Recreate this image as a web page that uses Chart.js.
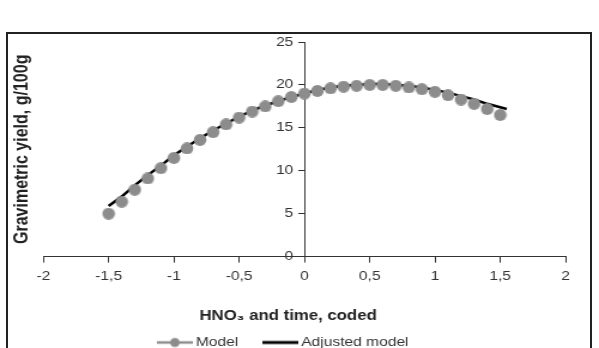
<!DOCTYPE html>
<html>
<head>
<meta charset="utf-8">
<script src="https://cdn.jsdelivr.net/npm/chart.js@4.4.0/dist/chart.umd.min.js"></script>
<style>
  html, body { margin: 0; padding: 0; background: #fff; overflow: hidden; }
  #wrap { position: relative; width: 599px; height: 348px; overflow: hidden; }
  #chart { position: absolute; left: 0; top: 0; width: 599px; height: 380px; }
  #frame { position: absolute; left: 6px; top: 32px; width: 582px; height: 340px; border: 2px solid #222; pointer-events: none; }
</style>
</head>
<body>
<div id="wrap">
  <canvas id="chart" width="500" height="380" style="width:599px;height:380px"></canvas>
  <div id="frame"></div>
</div>
<script>
// coded factor levels
const modelX = [-1.5, -1.4, -1.3, -1.2, -1.1, -1.0, -0.9, -0.8, -0.7, -0.6, -0.5, -0.4, -0.3, -0.2, -0.1,
  0, 0.1, 0.2, 0.3, 0.4, 0.5, 0.6, 0.7, 0.8, 0.9, 1.0, 1.1, 1.2, 1.3, 1.4, 1.5];
const modelY = [5.0, 6.4, 7.8, 9.1, 10.3, 11.5, 12.6, 13.6, 14.5, 15.4, 16.2, 16.9, 17.5, 18.1, 18.6,
  19.0, 19.3, 19.6, 19.8, 19.9, 20.0, 20.0, 19.9, 19.7, 19.5, 19.2, 18.8, 18.3, 17.8, 17.2, 16.5];

const adjustedX = [-1.5, -1.4, -1.3, -1.2, -1.1, -1.0, -0.9, -0.8, -0.7, -0.6, -0.5, -0.4, -0.3, -0.2, -0.1,
  0, 0.1, 0.2, 0.3, 0.4, 0.5, 0.6, 0.7, 0.8, 0.9, 1.0, 1.1, 1.2, 1.3, 1.4, 1.5, 1.55];
const adjustedY = [5.9, 7.0, 8.3, 9.5, 10.6, 11.8, 12.8, 13.8, 14.7, 15.5, 16.3, 17.0, 17.6, 18.1, 18.6,
  19.0, 19.4, 19.7, 19.9, 20.0, 20.1, 20.1, 20.0, 19.9, 19.7, 19.4, 19.1, 18.7, 18.3, 17.8, 17.4, 17.2];

const xTicks = [-2, -1.5, -1, -0.5, 0, 0.5, 1, 1.5, 2];
const xTickLabels = ['-2', '-1,5', '-1', '-0,5', '0', '0,5', '1', '1,5', '2'];
const yTicks = [0, 5, 10, 15, 20, 25];
const yTickLabels = ['0', '5', '10', '15', '20', '25'];

const FONT = "'Liberation Sans', Arial, sans-serif";
const AXIS = '#333';
const GREY = '#8c8c8c';

// canvas is stretched 599/500 wide, so draw marks pre-squeezed to look round
function marker(color) {
  const c = document.createElement('canvas');
  c.width = 12;
  c.height = 12;
  const g = c.getContext('2d');
  g.fillStyle = color;
  g.beginPath();
  g.ellipse(6, 6, 5.3, 6, 0, 0, Math.PI * 2);
  g.fill();
  return c;
}

// little legend symbols (line, line with marker)
function legendIcon(color, width, withMarker) {
  const c = document.createElement('canvas');
  c.width = 30;
  c.height = 14;
  const g = c.getContext('2d');
  g.strokeStyle = color;
  g.lineWidth = width;
  g.beginPath();
  g.moveTo(0, 7);
  g.lineTo(30, 7);
  g.stroke();
  if (withMarker) {
    g.fillStyle = color;
    g.beginPath();
    g.ellipse(15, 7, 4, 4.6, 0, 0, Math.PI * 2);
    g.fill();
  }
  return c;
}
const icons = [legendIcon(GREY, 2.5, true), legendIcon('#000', 3, false)];

const yTickOpts = (s) => { s.ticks = yTicks.map(v => ({ value: v })); };

const ctx = document.getElementById('chart').getContext('2d');
new Chart(ctx, {
  type: 'scatter',
  data: {
    datasets: [
      {
        label: 'Model',
        data: modelX.map((x, i) => ({ x: x, y: modelY[i] })),
        showLine: false,
        borderColor: GREY,
        backgroundColor: GREY,
        pointStyle: marker(GREY),
        pointRadius: 6,
        order: 0
      },
      {
        label: 'Adjusted model',
        data: adjustedX.map((x, i) => ({ x: x, y: adjustedY[i] })),
        showLine: true,
        borderColor: '#000',
        borderWidth: 2.5,
        pointRadius: 0,
        order: 1
      }
    ]
  },
  options: {
    responsive: false,
    animation: false,
    layout: { padding: { left: 4, right: 28, top: 42, bottom: 21 } },
    plugins: {
      tooltip: { enabled: false },
      legend: {
        position: 'bottom',
        labels: {
          usePointStyle: true,
          pointStyleWidth: 22,
          padding: 24,
          color: '#333',
          font: { family: FONT, size: 13 },
          generateLabels: (chart) => {
            const items = Chart.defaults.plugins.legend.labels.generateLabels(chart);
            items.forEach(it => { it.pointStyle = icons[it.datasetIndex]; });
            return items;
          }
        }
      }
    },
    scales: {
      x: {
        type: 'linear',
        position: 'bottom',
        min: -2,
        max: 2,
        afterBuildTicks: (s) => { s.ticks = xTicks.map(v => ({ value: v })); },
        ticks: {
          color: '#333',
          padding: 6,
          maxRotation: 0,
          font: { family: FONT, size: 13 },
          callback: (v, i) => xTickLabels[i]
        },
        grid: { drawOnChartArea: false, drawTicks: true, tickLength: 6, color: AXIS },
        border: { display: true, color: AXIS, width: 1 },
        title: {
          display: true,
          text: 'HNO₃ and time, coded' + '\u00A0'.repeat(7),
          color: '#222',
          font: { family: FONT, size: 14, weight: 'bold' },
          padding: { top: 18, bottom: -13 }
        }
      },
      // axis line + tick marks, crossing at x = 0
      y: {
        type: 'linear',
        position: 'center',
        min: 0,
        max: 25,
        afterBuildTicks: yTickOpts,
        ticks: { display: false },
        grid: { drawOnChartArea: false, drawTicks: true, tickLength: 5, color: AXIS },
        border: { display: true, color: AXIS, width: 1 }
      },
      // tick labels, set a little left of the axis line
      yLabels: {
        type: 'linear',
        axis: 'y',
        position: { x: -0.085 },
        min: 0,
        max: 25,
        afterBuildTicks: yTickOpts,
        ticks: {
          color: '#333',
          font: { family: FONT, size: 13 },
          callback: (v, i) => yTickLabels[i]
        },
        grid: { display: false, drawTicks: false },
        border: { display: false }
      },
      yTitle: {
        type: 'linear',
        axis: 'y',
        position: 'left',
        ticks: { display: false },
        grid: { display: false, drawTicks: false },
        border: { display: false },
        title: {
          display: true,
          text: 'Gravimetric yield, g/100g',
          color: '#222',
          font: { family: FONT, size: 16, weight: 'bold' },
          padding: { top: 5, bottom: 8 }
        }
      }
    }
  }
});
</script>
</body>
</html>
